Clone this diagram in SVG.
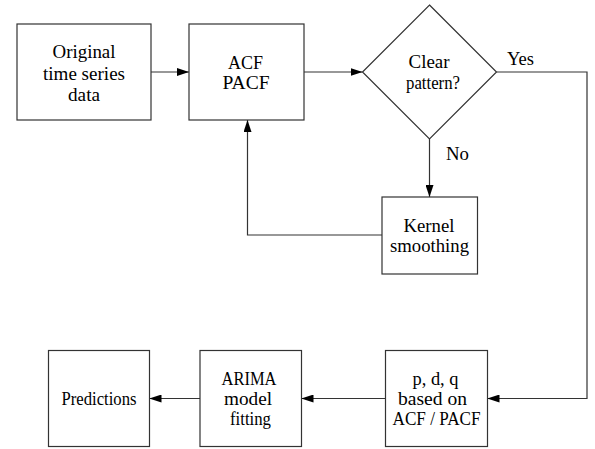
<svg xmlns="http://www.w3.org/2000/svg" width="595" height="449" viewBox="0 0 595 449">
<defs>
<marker id="ah" markerWidth="12" markerHeight="8" refX="12" refY="4" orient="auto" markerUnits="userSpaceOnUse">
<path d="M0,0 L12,4 L0,8 z" fill="#000"/>
</marker>
</defs>
<style>
.n{fill:#fff;stroke:#333;stroke-width:1.2}
.c{fill:none;stroke:#333;stroke-width:1.2}
text{font-family:"Liberation Serif","Times New Roman",serif;font-size:19.5px;fill:#000;text-anchor:middle}
.l{text-anchor:start}
</style>
<rect width="595" height="449" fill="#fff"/>
<g id="connectors">
<path class="c" d="M151,72 H189" marker-end="url(#ah)"/>
<path class="c" d="M304,72 H362.5" marker-end="url(#ah)"/>
<path class="c" d="M429.5,139 V197" marker-end="url(#ah)"/>
<path class="c" d="M382,235 H247.5 V120" marker-end="url(#ah)"/>
<path class="c" d="M496.5,72 H587 V398.5 H487.5" marker-end="url(#ah)"/>
<path class="c" d="M385.5,398.5 H301.5" marker-end="url(#ah)"/>
<path class="c" d="M200,398.5 H149.5" marker-end="url(#ah)"/>
<text class="l" x="507" y="65" textLength="27" lengthAdjust="spacingAndGlyphs">Yes</text>
<text class="l" x="446" y="160" textLength="23" lengthAdjust="spacingAndGlyphs">No</text>
</g>
<g id="original">
<rect class="n" x="17" y="24" width="134" height="96"/>
<text x="84" y="58" textLength="63" lengthAdjust="spacingAndGlyphs">Original</text>
<text x="84" y="80" textLength="82" lengthAdjust="spacingAndGlyphs">time series</text>
<text x="84" y="101" textLength="32" lengthAdjust="spacingAndGlyphs">data</text>
</g>
<g id="acf">
<rect class="n" x="189" y="24" width="115" height="96"/>
<text x="245.5" y="69" textLength="35" lengthAdjust="spacingAndGlyphs">ACF</text>
<text x="246" y="89" textLength="47" lengthAdjust="spacingAndGlyphs">PACF</text>
</g>
<g id="decision">
<polygon class="n" points="429.5,5 496.5,72 429.5,139 362.5,72"/>
<text x="429" y="68" textLength="41" lengthAdjust="spacingAndGlyphs">Clear</text>
<text x="433" y="89" textLength="54" lengthAdjust="spacingAndGlyphs">pattern?</text>
</g>
<g id="kernel">
<rect class="n" x="382" y="197" width="95.5" height="77"/>
<text x="429" y="232" textLength="51" lengthAdjust="spacingAndGlyphs">Kernel</text>
<text x="429.5" y="252" textLength="79" lengthAdjust="spacingAndGlyphs">smoothing</text>
</g>
<g id="pdq">
<rect class="n" x="385.5" y="350.5" width="102" height="96"/>
<text x="435.5" y="385" textLength="46" lengthAdjust="spacingAndGlyphs">p, d, q</text>
<text x="432.5" y="405" textLength="69" lengthAdjust="spacingAndGlyphs">based on</text>
<text x="436.5" y="425" textLength="88" lengthAdjust="spacingAndGlyphs">ACF / PACF</text>
</g>
<g id="arima">
<rect class="n" x="200" y="350.5" width="101.5" height="96"/>
<text x="249" y="385" textLength="55" lengthAdjust="spacingAndGlyphs">ARIMA</text>
<text x="248" y="405" textLength="48" lengthAdjust="spacingAndGlyphs">model</text>
<text x="250.5" y="425" textLength="41" lengthAdjust="spacingAndGlyphs">fitting</text>
</g>
<g id="predictions">
<rect class="n" x="48.5" y="350.5" width="101" height="96"/>
<text x="99" y="405" textLength="75" lengthAdjust="spacingAndGlyphs">Predictions</text>
</g>
</svg>
